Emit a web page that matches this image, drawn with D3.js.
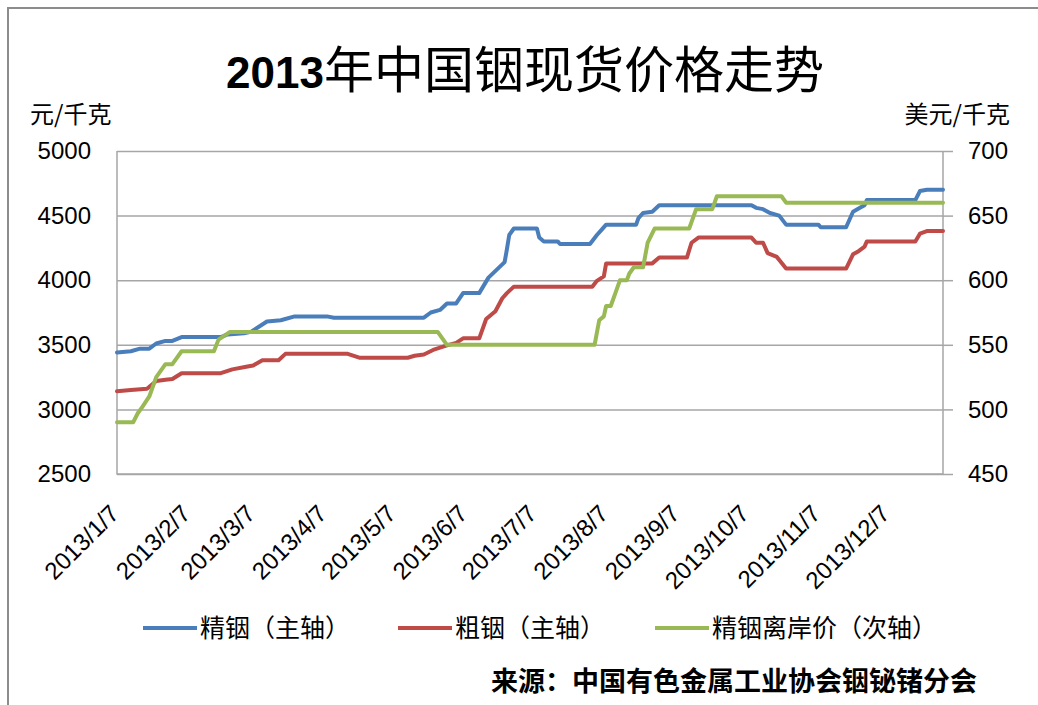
<!DOCTYPE html>
<html>
<head>
<meta charset="utf-8">
<script src="https://cdn.jsdelivr.net/npm/d3@7/dist/d3.min.js"></script>
<style>
  body { margin: 0; background: #fff; }
  svg { display: block; font-family: "Liberation Sans", Arial, sans-serif; }
  .cjk { font-family: "Noto Sans CJK SC", "Liberation Sans", sans-serif; }
</style>
</head>
<body>
<svg id="chart" width="1038" height="705"></svg>
<script>
// 精铟 (primary axis, 元/千克)
var refined = [
  ['2013-01-07',3440],['2013-01-13',3450],['2013-01-17',3470],['2013-01-21',3470],
  ['2013-01-24',3510],['2013-01-28',3530],['2013-01-31',3530],['2013-02-04',3560],
  ['2013-02-21',3560],['2013-02-24',3580],['2013-03-03',3590],['2013-03-06',3600],
  ['2013-03-13',3680],['2013-03-19',3690],['2013-03-25',3720],['2013-04-08',3720],
  ['2013-04-11',3710],['2013-05-20',3710],['2013-05-23',3750],['2013-05-27',3770],
  ['2013-05-30',3820],['2013-06-03',3820],['2013-06-06',3900],['2013-06-13',3900],
  ['2013-06-17',4020],['2013-06-24',4140],['2013-06-25',4240],['2013-06-26',4350],
  ['2013-06-28',4400],['2013-07-08',4400],['2013-07-09',4330],['2013-07-11',4300],
  ['2013-07-17',4300],['2013-07-18',4280],['2013-07-31',4280],['2013-08-03',4350],
  ['2013-08-05',4390],['2013-08-07',4430],['2013-08-20',4430],['2013-08-21',4480],
  ['2013-08-23',4520],['2013-08-27',4530],['2013-08-30',4580],['2013-10-09',4580],
  ['2013-10-11',4560],['2013-10-14',4550],['2013-10-17',4520],['2013-10-21',4500],
  ['2013-10-24',4430],['2013-11-07',4430],['2013-11-08',4410],['2013-11-19',4410],
  ['2013-11-22',4530],['2013-11-25',4560],['2013-11-27',4580],['2013-11-28',4620],
  ['2013-12-19',4620],['2013-12-21',4690],['2013-12-24',4700],['2013-12-31',4700]
];

// 粗铟 (primary axis, 元/千克)
var crude = [
  ['2013-01-07',3140],['2013-01-13',3150],['2013-01-20',3160],['2013-01-24',3220],
  ['2013-01-28',3230],['2013-01-31',3235],['2013-02-04',3280],['2013-02-21',3280],
  ['2013-02-26',3310],['2013-03-04',3330],['2013-03-07',3340],['2013-03-11',3380],
  ['2013-03-18',3380],['2013-03-21',3430],['2013-04-17',3430],['2013-04-22',3400],
  ['2013-05-13',3400],['2013-05-16',3415],['2013-05-20',3425],['2013-05-24',3460],
  ['2013-05-30',3495],['2013-06-03',3515],['2013-06-06',3550],['2013-06-13',3550],
  ['2013-06-16',3700],['2013-06-20',3760],['2013-06-23',3860],['2013-06-25',3900],
  ['2013-06-28',3950],['2013-08-01',3950],['2013-08-03',3995],['2013-08-06',4030],
  ['2013-08-07',4130],['2013-08-27',4130],['2013-08-30',4175],['2013-09-11',4175],
  ['2013-09-13',4290],['2013-09-16',4330],['2013-10-09',4330],['2013-10-11',4290],
  ['2013-10-14',4290],['2013-10-16',4210],['2013-10-20',4180],['2013-10-24',4090],
  ['2013-11-19',4090],['2013-11-22',4200],['2013-11-24',4220],['2013-11-27',4260],
  ['2013-11-28',4300],['2013-12-19',4300],['2013-12-21',4360],['2013-12-24',4380],
  ['2013-12-31',4380]
];

// 精铟离岸价 (secondary axis, 美元/千克)
var fob = [
  ['2013-01-07',490],['2013-01-14',490],['2013-01-16',497],['2013-01-18',502],
  ['2013-01-21',510],['2013-01-24',525],['2013-01-28',535],['2013-01-31',535],
  ['2013-02-04',545],['2013-02-18',545],['2013-02-20',554],['2013-02-25',560],
  ['2013-05-26',560],['2013-05-30',550],['2013-08-02',550],['2013-08-04',569],
  ['2013-08-06',572],['2013-08-07',580],['2013-08-09',580],['2013-08-11',590],
  ['2013-08-13',600],['2013-08-16',600],['2013-08-17',605],['2013-08-19',610],
  ['2013-08-23',610],['2013-08-25',629],['2013-08-28',640],['2013-09-12',640],
  ['2013-09-15',655],['2013-09-22',655],['2013-09-24',665],['2013-10-22',665],
  ['2013-10-24',660],['2013-12-31',660]
];

var leftTicks = [2500, 3000, 3500, 4000, 4500, 5000];
var rightTicks = [450, 500, 550, 600, 650, 700];
var xTicks = ['2013-01-07','2013-02-07','2013-03-07','2013-04-07','2013-05-07','2013-06-07',
              '2013-07-07','2013-08-07','2013-09-07','2013-10-07','2013-11-07','2013-12-07'];
var xRange = ['2013-01-07', '2013-12-31'];
var seriesNames = ['精铟（主轴）', '粗铟（主轴）', '精铟离岸价（次轴）'];
var seriesColors = ['#4a7ebb', '#be4b48', '#98b954'];

(function() {
  var parse = d3.utcParse('%Y-%m-%d');
  var fmt = d3.utcFormat('%Y/%-m/%-d');
  var numFont = '"Liberation Sans", Arial, sans-serif';

  var svg = d3.select('#chart');

  // plot area box
  var pLeft = 117, pRight = 943, pTop = 151, pBottom = 474;

  var x = d3.scaleUtc().domain(xRange.map(parse)).range([pLeft, pRight]);
  var yL = d3.scaleLinear().domain([2500, 5000]).range([pBottom, pTop]);
  var yR = d3.scaleLinear().domain([450, 700]).range([pBottom, pTop]);

  // chart border (left + top visible)
  svg.append('path')
     .attr('d', 'M8,705V8H1038')
     .attr('fill', 'none')
     .attr('stroke', '#8c8c8c')
     .attr('stroke-width', 2);

  // title
  var title = svg.append('text')
     .attr('x', 525).attr('y', 88)
     .attr('text-anchor', 'middle')
     .attr('fill', '#000');
  title.append('tspan').attr('font-weight', 'bold').attr('font-size', 44).text('2013');
  title.append('tspan').attr('class', 'cjk').attr('font-size', 50).text('年中国铟现货价格走势');

  // axis unit labels
  svg.append('text').attr('class', 'cjk')
     .attr('x', 30).attr('y', 123).attr('font-size', 24).text('元/千克');
  svg.append('text').attr('class', 'cjk')
     .attr('x', 1010).attr('y', 123).attr('font-size', 24)
     .attr('text-anchor', 'end').text('美元/千克');

  // gridlines
  var grid = svg.append('g')
     .attr('transform', 'translate(' + pLeft + ',0)')
     .call(d3.axisLeft(yL).tickValues(leftTicks).tickSize(-(pRight - pLeft)).tickFormat(''));
  grid.select('.domain').remove();
  grid.selectAll('line').attr('stroke', '#a6a6a6').attr('stroke-width', 1.5);

  // plot frame (left, bottom, right)
  svg.append('path')
     .attr('d', 'M' + pLeft + ',' + pTop + 'V' + pBottom + 'H' + pRight + 'V' + pTop)
     .attr('fill', 'none')
     .attr('stroke', '#a6a6a6')
     .attr('stroke-width', 1.5);

  // left axis labels
  var gL = svg.append('g')
     .attr('transform', 'translate(' + pLeft + ',0)')
     .call(d3.axisLeft(yL).tickValues(leftTicks).tickSize(0).tickPadding(26).tickFormat(d3.format('d')));
  gL.select('.domain').remove();
  gL.selectAll('text').attr('font-size', 24).attr('fill', '#000').attr('font-family', numFont);

  // right axis with outward ticks
  var gR = svg.append('g')
     .attr('transform', 'translate(' + pRight + ',0)')
     .call(d3.axisRight(yR).tickValues(rightTicks).tickSize(10).tickPadding(15).tickFormat(d3.format('d')));
  gR.select('.domain').remove();
  gR.selectAll('line').attr('stroke', '#a6a6a6').attr('stroke-width', 1.5);
  gR.selectAll('text').attr('font-size', 24).attr('fill', '#000').attr('font-family', numFont);

  // bottom axis, rotated date labels
  var gX = svg.append('g')
     .attr('transform', 'translate(0,' + pBottom + ')')
     .call(d3.axisBottom(x).tickValues(xTicks.map(parse)).tickSize(0).tickFormat(fmt));
  gX.select('.domain').remove();
  gX.selectAll('text')
     .attr('font-size', 24).attr('fill', '#000').attr('font-family', numFont)
     .attr('text-anchor', 'end')
     .attr('x', 0).attr('y', 0).attr('dy', 0)
     .attr('transform', 'translate(3,41) rotate(-45)');

  // lines
  var lineL = d3.line().x(function(d) { return x(parse(d[0])); }).y(function(d) { return yL(d[1]); });
  var lineR = d3.line().x(function(d) { return x(parse(d[0])); }).y(function(d) { return yR(d[1]); });

  var series = [
    {data: refined, line: lineL},
    {data: crude, line: lineL},
    {data: fob, line: lineR}
  ];

  series.forEach(function(s, i) {
    svg.append('path')
       .attr('d', s.line(s.data))
       .attr('fill', 'none')
       .attr('stroke', seriesColors[i])
       .attr('stroke-width', 4)
       .attr('stroke-linejoin', 'round')
       .attr('stroke-linecap', 'round');
  });

  // legend
  var legendX = [143, 398, 655];
  var legend = svg.append('g').selectAll('g')
     .data(seriesNames)
     .enter().append('g')
     .attr('transform', function(d, i) { return 'translate(' + legendX[i] + ',628)'; });
  legend.append('line')
     .attr('x1', 0).attr('x2', 54).attr('y1', 0).attr('y2', 0)
     .attr('stroke', function(d, i) { return seriesColors[i]; })
     .attr('stroke-width', 4);
  legend.append('text')
     .attr('class', 'cjk')
     .attr('x', 57).attr('y', 0).attr('dy', '0.36em')
     .attr('font-size', 25)
     .text(function(d) { return d; });

  // source note
  svg.append('text').attr('class', 'cjk')
     .attr('x', 977).attr('y', 691)
     .attr('text-anchor', 'end')
     .attr('font-size', 27).attr('font-weight', 'bold')
     .text('来源：中国有色金属工业协会铟铋锗分会');
})();
</script>
</body>
</html>
